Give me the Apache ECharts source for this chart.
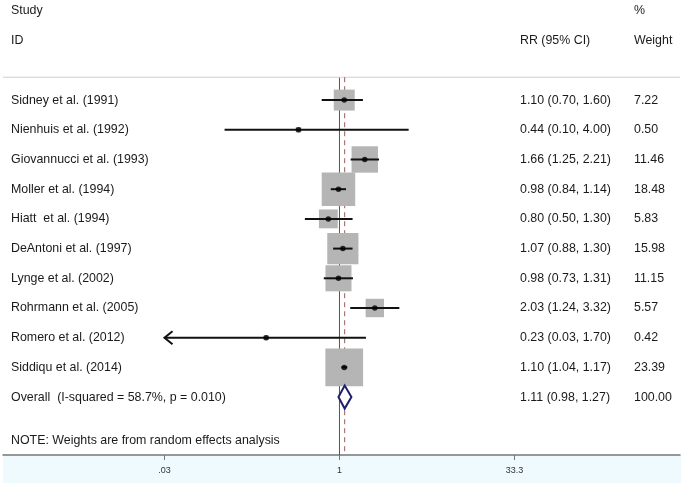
<!DOCTYPE html>
<html>
<head>
<meta charset="utf-8">
<script src="https://cdn.jsdelivr.net/npm/echarts@6/dist/echarts.min.js"></script>
<style>
  html, body { margin: 0; padding: 0; background: #fff; }
  #chart { width: 685px; height: 489px; }
</style>
</head>
<body>
<div id="chart"></div>
<script>
// data
const studies = [
  'Sidney et al. (1991)', 'Nienhuis et al. (1992)', 'Giovannucci et al. (1993)',
  'Moller et al. (1994)', 'Hiatt  et al. (1994)', 'DeAntoni et al. (1997)',
  'Lynge et al. (2002)', 'Rohrmann et al. (2005)', 'Romero et al. (2012)',
  'Siddiqu et al. (2014)'
]
const rr = [1.10, 0.44, 1.66, 0.98, 0.80, 1.07, 0.98, 2.03, 0.23, 1.10]
const lower = [0.70, 0.10, 1.25, 0.84, 0.50, 0.88, 0.73, 1.24, 0.03, 1.04]
const upper = [1.60, 4.00, 2.21, 1.14, 1.30, 1.30, 1.31, 3.32, 1.70, 1.17]
const weights = [7.22, 0.50, 11.46, 18.48, 5.83, 15.98, 11.15, 5.57, 0.42, 23.39]
const overallLabel = 'Overall  (I-squared = 58.7%, p = 0.010)'
const overallRR = 1.11
const overallLower = 0.98
const overallUpper = 1.27
const overallWeight = 100.00
const tickVals = [0.03, 1, 33.3]
const tickLabels = ['.03', '1', '33.3']
const noteText = 'NOTE: Weights are from random effects analysis'

const ln = Math.log
const FONT = '"Liberation Sans", Arial, sans-serif'
const TEXT_COLOR = '#1a1a1a'
const overallRow = studies.length
const sepRow = -0.77
const noteRow = 11.45
const yMin = -3.37
const yMax = 11.95
const colX = [11, 520, 634]

const fmt = v => v.toFixed(2)

// text table: [row, col0, col1, col2]
const textRows = [
  [-3, 'Study', '', '%'],
  [-2, 'ID', 'RR (95% CI)', 'Weight']
]
studies.forEach((s, i) => {
  textRows.push([i, s, `${fmt(rr[i])} (${fmt(lower[i])}, ${fmt(upper[i])})`, fmt(weights[i])])
})
textRows.push([overallRow, overallLabel,
  `${fmt(overallRR)} (${fmt(overallLower)}, ${fmt(overallUpper)})`, fmt(overallWeight)])
textRows.push([noteRow, noteText, '', ''])

const chart = echarts.init(document.getElementById('chart'))

const option = {
  animation: false,
  grid: { left: 3, right: 5, top: 0, bottom: 34 },
  xAxis: {
    type: 'value',
    min: -6.743,
    max: 6.824,
    splitLine: { show: false },
    axisLine: { onZero: false, lineStyle: { color: '#777', width: 1.5 } },
    axisTick: {
      customValues: tickVals.map(v => ln(v)),
      length: 5,
      lineStyle: { color: '#777', width: 1 }
    },
    axisLabel: {
      customValues: tickVals.map(v => ln(v)),
      margin: 11,
      fontSize: 9,
      color: '#333',
      fontFamily: FONT,
      formatter: v => {
        const k = tickVals.findIndex(t => Math.abs(ln(t) - v) < 1e-6)
        return k >= 0 ? tickLabels[k] : ''
      }
    }
  },
  yAxis: {
    type: 'value',
    inverse: true,
    min: yMin,
    max: yMax,
    show: false
  },
  graphic: [
    {
      type: 'rect',
      z: -100,
      silent: true,
      shape: { x: 3, y: 455, width: 678, height: 28 },
      style: { fill: '#eefafd' }
    }
  ],
  series: [
    // separator + reference lines (no effect, overall estimate)
    {
      type: 'custom',
      z: 1,
      silent: true,
      data: [[0, 0], [ln(overallRR), 1]],
      renderItem: (params, api) => {
        const top = api.coord([api.value(0), sepRow])
        const bot = api.coord([api.value(0), yMax])
        const children = [{
          type: 'line',
          shape: { x1: top[0], y1: top[1], x2: bot[0], y2: bot[1] },
          style: api.value(1)
            ? { stroke: '#9a5a5a', lineWidth: 1, lineDash: [5, 4] }
            : { stroke: '#555', lineWidth: 1 }
        }]
        if (params.dataIndex === 0) {
          children.push({
            type: 'line',
            shape: { x1: 3, y1: top[1], x2: 680, y2: top[1] },
            style: { stroke: '#cfcfcf', lineWidth: 1 }
          })
        }
        return { type: 'group', children }
      }
    },
    // weight boxes
    {
      type: 'scatter',
      z: 2,
      symbol: 'rect',
      data: studies.map((s, i) => [ln(rr[i]), i, weights[i]]),
      symbolSize: v => 7.8 * Math.sqrt(v[2]),
      itemStyle: { color: '#b5b5b5', opacity: 1 }
    },
    // confidence intervals
    {
      type: 'custom',
      z: 3,
      data: studies.map((s, i) => [ln(lower[i]), ln(upper[i]), i, lower[i] <= tickVals[0] ? 1 : 0]),
      renderItem: (params, api) => {
        const a = api.coord([api.value(0), api.value(2)])
        const b = api.coord([api.value(1), api.value(2)])
        const children = [{
          type: 'line',
          shape: { x1: a[0], y1: a[1], x2: b[0], y2: b[1] },
          style: { stroke: '#111', lineWidth: 2 }
        }]
        if (api.value(3)) {
          children.push({
            type: 'polyline',
            shape: { points: [[a[0] + 8, a[1] - 6.5], [a[0], a[1]], [a[0] + 8, a[1] + 6.5]] },
            style: { stroke: '#111', lineWidth: 2, fill: null }
          })
        }
        return { type: 'group', children }
      }
    },
    // point estimates
    {
      type: 'scatter',
      z: 4,
      symbol: 'circle',
      symbolSize: 5.5,
      data: studies.map((s, i) => [ln(rr[i]), i]),
      itemStyle: { color: '#000' }
    },
    // overall diamond
    {
      type: 'custom',
      z: 5,
      data: [[ln(overallLower), ln(overallRR), ln(overallUpper), overallRow]],
      renderItem: (params, api) => {
        const l = api.coord([api.value(0), api.value(3)])
        const c = api.coord([api.value(1), api.value(3)])
        const r = api.coord([api.value(2), api.value(3)])
        const h = 11.5
        return {
          type: 'polygon',
          shape: { points: [[l[0], l[1]], [c[0], c[1] - h], [r[0], r[1]], [c[0], c[1] + h]] },
          style: { fill: '#fff', stroke: '#1f1f6e', lineWidth: 2 }
        }
      }
    },
    // text columns
    {
      type: 'custom',
      z: 6,
      silent: true,
      data: textRows.map(t => [0, t[0]]),
      renderItem: (params, api) => {
        const y = api.coord([0, api.value(1)])[1]
        const t = textRows[params.dataIndex]
        return {
          type: 'group',
          children: [1, 2, 3].map(k => ({
            type: 'text',
            x: colX[k - 1],
            y: y,
            style: {
              text: t[k],
              fill: TEXT_COLOR,
              font: '12.4px ' + FONT,
              textAlign: 'left',
              textVerticalAlign: 'middle'
            }
          }))
        }
      }
    }
  ]
}

chart.setOption(option)
</script>
</body>
</html>
